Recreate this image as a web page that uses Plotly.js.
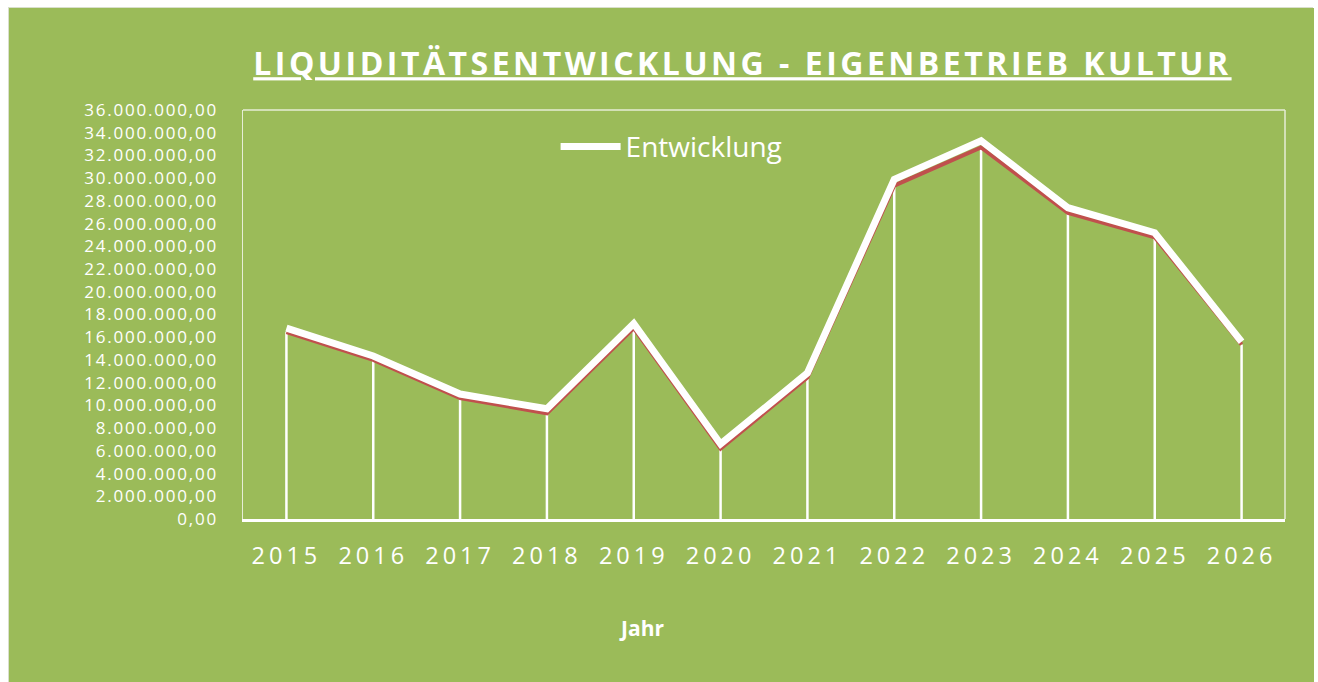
<!DOCTYPE html>
<html>
<head>
<meta charset="utf-8">
<script src="https://cdn.plot.ly/plotly-3.0.1.min.js"></script>
<style>
html,body{margin:0;padding:0;background:#ffffff;width:1318px;height:682px;overflow:hidden;}
#chart{position:absolute;left:8px;top:7px;width:1305px;height:675px;border:1px solid #d9dfcc;box-sizing:border-box;}
</style>
</head>
<body>
<div id="chart"></div>
<script>
// Data
const years = ['2015','2016','2017','2018','2019','2020','2021','2022','2023','2024','2025','2026'];
// white "Entwicklung" line
const entwicklung = [16.8e6, 14.35e6, 11.0e6, 9.7e6, 17.2e6, 6.6e6, 12.85e6, 29.9e6, 33.3e6, 27.4e6, 25.2e6, 15.6e6];
// red line underneath (shadow series) and drop lines
const shadow = [16.45e6, 14.0e6, 10.65e6, 9.3e6, 16.8e6, 6.2e6, 12.45e6, 29.35e6, 32.7e6, 26.95e6, 24.8e6, 15.35e6];
const yTicks = [];
for (let v = 0; v <= 36e6; v += 2e6) yTicks.push(v);

const green = '#9BBB59';
const white = '#ffffff';
const red = '#C0504D';

// German number format: 36.000.000,00
function deFormat(v) {
  const parts = v.toFixed(2).split('.');
  const intPart = parts[0].replace(/\B(?=(\d{3})+(?!\d))/g, '.');
  return intPart + ',' + parts[1];
}

// drop lines from axis up to each point
const dropX = [], dropY = [];
years.forEach((y, i) => { dropX.push(y, y, null); dropY.push(0, shadow[i], null); });

const traces = [
  {x: dropX, y: dropY, mode: 'lines', line: {color: white, width: 2.5}, showlegend: false, hoverinfo: 'skip'},
  {x: years, y: shadow, mode: 'lines', line: {color: red, width: 4}, showlegend: false},
  {x: years, y: entwicklung, name: 'Entwicklung', mode: 'lines', line: {color: white, width: 7}}
];

const spaced = (s, px) => '<span style="letter-spacing:' + px + 'px">' + s + '</span>';

const layout = {
  width: 1305, height: 675,
  paper_bgcolor: green, plot_bgcolor: green,
  font: {family: '"Open Sans", sans-serif', color: white},
  margin: {l: 234, r: 29, t: 102, b: 164},
  title: {
    text: spaced('LIQUIDITÄTSENTWICKLUNG - EIGENBETRIEB KULTUR', 3.5),
    font: {size: 32, color: white, weight: 'bold', lineposition: 'under'},
    xref: 'container', x: 0.562, xanchor: 'center',
    yref: 'container', y: 0.917, yanchor: 'middle'
  },
  xaxis: {
    type: 'category',
    range: [-0.5, 11.5],
    tickvals: years,
    ticktext: years.map(s => spaced(s, 4)),
    tickfont: {size: 23.5, color: white},
    ticks: 'outside', ticklen: 0, ticklabelstandoff: 14,
    showgrid: false, zeroline: false,
    showline: true, linecolor: white, linewidth: 3,
    mirror: false
  },
  yaxis: {
    range: [0, 36e6],
    tickvals: yTicks,
    ticktext: yTicks.map(v => spaced(deFormat(v), 1.8)),
    tickfont: {size: 17, color: white},
    ticks: 'outside', ticklen: 0, ticklabelstandoff: 20,
    showgrid: false, zeroline: false,
    showline: true, linecolor: '#e6edd6', linewidth: 1.5
  },
  shapes: [
    {type: 'line', xref: 'paper', yref: 'paper', x0: 0, x1: 1, y0: 1, y1: 1, line: {color: '#e6edd6', width: 1.5}},
    {type: 'line', xref: 'paper', yref: 'paper', x0: 1, x1: 1, y0: 0, y1: 1, line: {color: '#e6edd6', width: 1.5}}
  ],
  annotations: [
    {text: '<b>Jahr</b>', xref: 'paper', yref: 'paper', x: 0.382, y: -0.266,
     xanchor: 'center', yanchor: 'middle', showarrow: false, font: {size: 21, color: white}}
  ],
  legend: {
    x: 0.30, y: 0.91, xanchor: 'left', yanchor: 'middle',
    bgcolor: 'rgba(0,0,0,0)',
    font: {size: 28, color: white},
    itemwidth: 60
  },
  showlegend: true
};

Plotly.newPlot('chart', traces, layout, {displayModeBar: false, staticPlot: true});
</script>
</body>
</html>
